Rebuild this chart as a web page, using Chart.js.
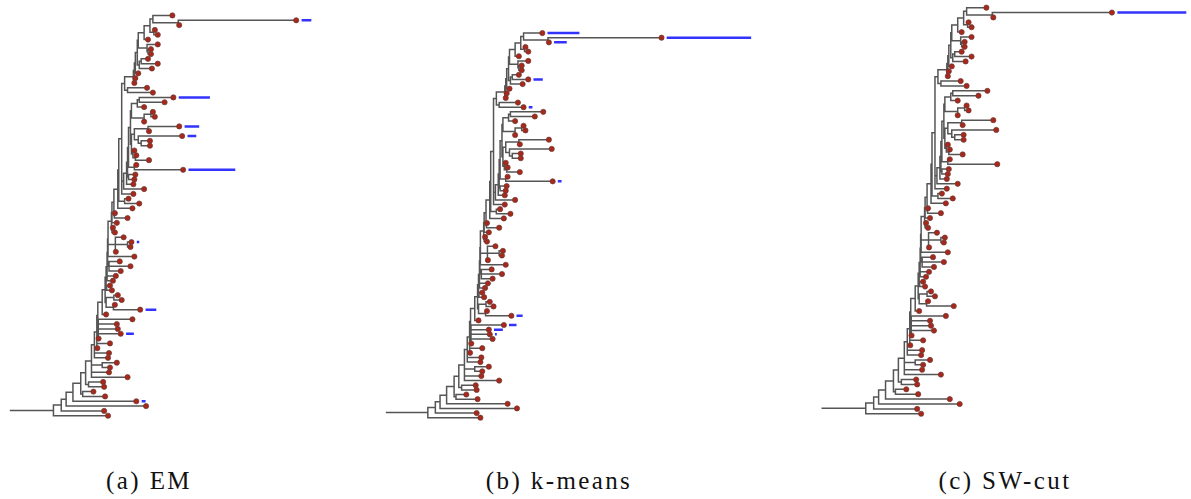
<!DOCTYPE html>
<html>
<head>
<meta charset="utf-8">
<script src="https://cdn.jsdelivr.net/npm/chart.js@4.4.1/dist/chart.umd.min.js"></script>
<style>
body { margin: 0; background: #fff; width: 1191px; height: 499px; position: relative; overflow: hidden; }
canvas { position: absolute; top: 0; }
.cap { position: absolute; top: 467px; font-family: "Liberation Serif", "DejaVu Serif", serif; font-size: 25px; letter-spacing: 2.4px; color: #111; transform: translateX(-50%); white-space: nowrap; }
</style>
</head>
<body>
<canvas id="em" width="375" height="440" style="left:0"></canvas>
<canvas id="km" width="420" height="440" style="left:375px"></canvas>
<canvas id="sw" width="391" height="440" style="left:800px"></canvas>
<script>
// ── DATA ─────────────────────────────────────────────
// leaves top to bottom: tip position (branch length from the left, panel (a) units)
const tipX = [
    172, 299, 179, 154, 157, 147, 157, 150, 150, 147,
    157, 151, 137, 134, 133, 146, 152, 173, 164, 143,
    152, 154, 143, 179, 148, 182, 149, 149, 133, 135,
    148, 135, 183, 134, 133, 132, 143, 132, 127, 138,
    131, 113, 126, 115, 111, 113, 122, 130, 129, 114,
    133, 118, 129, 119, 114, 111, 108, 110, 116, 120,
    113, 139, 104, 131, 115, 116, 119, 96.3, 108, 95,
    107, 106, 115, 108, 107, 126, 101, 102, 91, 103,
    135, 145, 102, 106
];
// depth of the node where leaf i meets leaf i+1
const joinX = [
    152, 178, 149, 153, 143, 137, 146, 147, 136, 140,
    138, 134, 133, 132, 123, 126, 120, 138, 136, 130,
    150, 143, 129, 147, 133, 137, 140, 130, 131.5, 134,
    127, 133, 126, 127, 125, 122, 120, 117, 123, 116,
    112, 112.5, 110, 109.5, 110, 106, 113.5, 126, 113.5, 106,
    105.5, 107, 107, 105, 105, 104, 104.5, 103, 112, 104,
    111.5, 100, 95.5, 96, 96, 96, 96, 94.5, 94.5, 92,
    92, 89, 100, 89, 89, 83, 86, 78, 80, 70,
    63, 58, 50
];
const stemX = 6;

const captions = ['(a) EM', '(b) k-means', '(c) SW-cut'];

// blue bars: leaf index and length
const emBarLeaf = [1, 17, 23, 25, 32, 47, 61, 66, 80];
const emBarLen  = [10, 32, 15, 9, 48, 2.5, 11, 8, 4];
const kmBarLeaf = [0, 1, 2, 10, 16, 32, 61, 63, 64, 65];
const kmBarLen  = [34, 90, 13.5, 10, 4, 4, 6.5, 8, 9.4, 2];
const swBarLeaf = [1];
const swBarLen  = [75];

// ── TREE → SEGMENTS ──────────────────────────────────
function treeSegments() {
    const segs = [];
    function node(lo, hi) {
        if (lo === hi) return { x: tipX[lo], y: lo };
        let m = Infinity;
        for (let i = lo; i < hi; i++) m = Math.min(m, joinX[i]);
        const kids = []; let s = lo;
        for (let i = lo; i < hi; i++) if (joinX[i] === m) { kids.push(node(s, i)); s = i + 1; }
        kids.push(node(s, hi));
        const top = kids[0].y, bot = kids[kids.length - 1].y;
        segs.push([m, top, m, bot]);
        kids.forEach(k => segs.push([m, k.y, k.x, k.y]));
        return { x: m, y: (top + bot) / 2 };
    }
    const r = node(0, tipX.length - 1);
    segs.push([stemX, r.y, r.x, r.y]);
    return segs;
}
function toPoints(segs) {
    const pts = [];
    segs.forEach(s => { pts.push({ x: s[0], y: s[1] }, { x: s[2], y: s[3] }, { x: s[2], y: null }); });
    return pts;
}
const GAP = 5.5;
function barSegments(leaves, lens) {
    return leaves.map((i, k) => [tipX[i] + GAP, i, tipX[i] + GAP + lens[k], i]);
}

// ── CHARTS ───────────────────────────────────────────
const H = 440;
const panels = [
    { id: 'em', w: 375, xMin: 0, s: 1, y0: 11, k: 409 / 83, bars: barSegments(emBarLeaf, emBarLen) },
    { id: 'km', w: 420, xMin: 6 - 7 / 0.96, s: 0.96, y0: 29, k: 393 / 83, bars: barSegments(kmBarLeaf, kmBarLen) },
    { id: 'sw', w: 391, xMin: 6 - 18 / 1.013, s: 1.013, y0: 3, k: 415 / 83, bars: barSegments(swBarLeaf, swBarLen) }
];
const treePts = toPoints(treeSegments());
const dots = tipX.map((x, i) => ({ x: x, y: i }));

panels.forEach(p => {
    const yMin = -p.y0 / p.k;
    new Chart(document.getElementById(p.id), {
        type: 'line',
        data: {
            datasets: [
                { data: treePts, borderColor: '#555555', borderWidth: 1.5, borderCapStyle: 'square', pointRadius: 0, spanGaps: false, order: 2 },
                { data: toPoints(p.bars), borderColor: '#3333ff', borderWidth: 2.5, pointRadius: 0, spanGaps: false, order: 1 },
                { type: 'scatter', data: dots, pointRadius: 2.6, backgroundColor: '#a8281c', borderColor: '#6a3b36', borderWidth: 0.7, clip: false, order: 0 }
            ]
        },
        options: {
            responsive: false, animation: false, events: [],
            layout: { padding: 0 },
            plugins: { legend: { display: false }, tooltip: { enabled: false } },
            scales: {
                x: { type: 'linear', display: false, min: p.xMin, max: p.xMin + p.w / p.s },
                y: { type: 'linear', display: false, reverse: true, min: yMin, max: yMin + H / p.k }
            }
        }
    });
});

// ── CAPTIONS ─────────────────────────────────────────
[149, 559, 1005].forEach((cx, i) => {
    const d = document.createElement('div');
    d.className = 'cap'; d.style.left = cx + 'px'; d.textContent = captions[i];
    document.body.appendChild(d);
});
</script>
</body>
</html>
